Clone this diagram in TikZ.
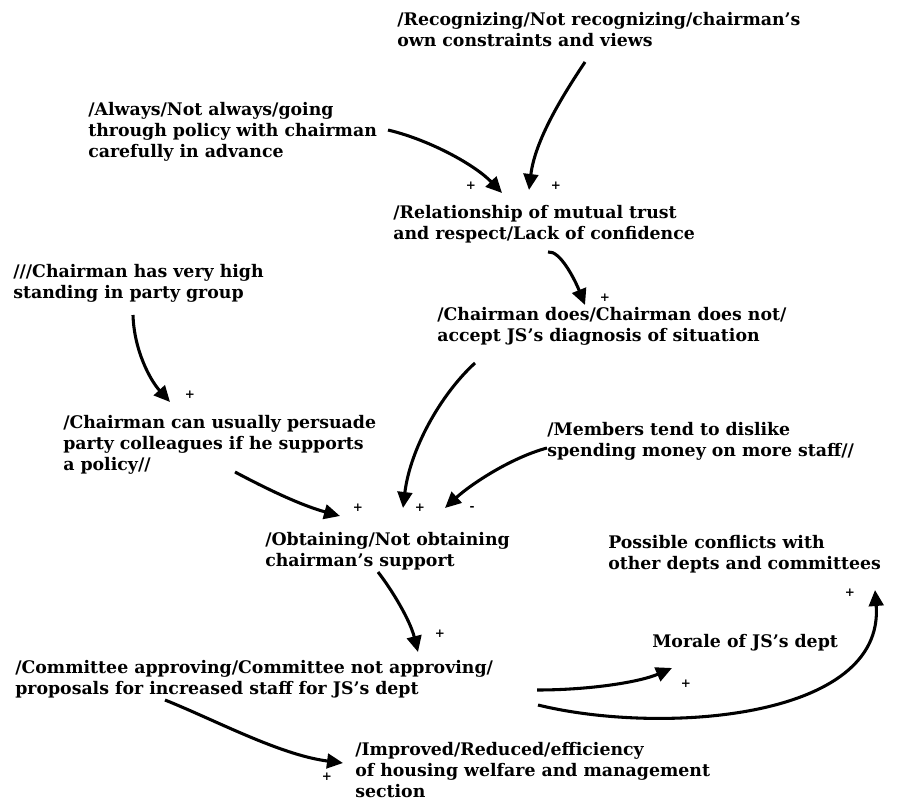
\documentclass[tikz,border=0pt]{standalone}
\usepackage{fontspec}
\setmainfont{DejaVu Serif}
\usepackage{tikz}
\usetikzlibrary{arrows.meta}
\tikzset{
    factor/.style={
        align=left,
        anchor=north west,
        inner sep=0pt,
        font=\bfseries\fontsize{13}{15.75}\selectfont
    },
    sign/.style={
        inner sep=0pt,
        font=\bfseries\small
    },
    link/.style={
        draw,
        line width=2.3pt,
        -{Triangle[length=12pt, width=11pt]}
    }
}

\begin{document}
\begin{tikzpicture}[x=0.75pt,y=-0.75pt]
  \useasboundingbox (0,0) rectangle (898,802);

  % Factors
  \node[factor] (recog) at (397,12) {/Recognizing/Not recognizing/chairman's\\own constraints and views};
  \node[factor] (always) at (88,102) {/Always/Not always/going\\through policy with chairman\\carefully in advance};
  \node[factor] (trust) at (393,205) {/Relationship of mutual trust\\and respect/Lack of confidence};
  \node[factor] (standing) at (13,264) {///Chairman has very high\\standing in party group};
  \node[factor] (accept) at (437,307) {/Chairman does/Chairman does not/\\accept JS's diagnosis of situation};
  \node[factor] (persuade) at (63,415) {/Chairman can usually persuade\\party colleagues if he supports\\a policy//};
  \node[factor] (members) at (547,422) {/Members tend to dislike\\spending money on more staff//};
  \node[factor] (support) at (265,532) {/Obtaining/Not obtaining\\chairman's support};
  \node[factor] (conflicts) at (608,535) {Possible conflicts with\\other depts and committees};
  \node[factor] (approve) at (15,660) {/Committee approving/Committee not approving/\\proposals for increased staff for JS's dept};
  \node[factor] (morale) at (652,634) {Morale of JS's dept};
  \node[factor] (efficiency) at (355,742) {/Improved/Reduced/efficiency\\of housing welfare and management\\section};

  % Influences
  \draw[link] ([shift={(188,50)}]recog.north west) .. controls +(-22,33) and +(6,-50) .. ([shift={(136,-15)}]trust.north west);
  \draw[link] ([shift={(300,28)}]always.north west) .. controls +(42,10) and +(-27,-28) .. ([shift={(109,-12)}]trust.north west);
  \draw[link] ([shift={(155,47)}]trust.north west) .. controls +(12,-2) and +(-10,-25) .. ([shift={(148,-2)}]accept.north west);
  \draw[link] ([shift={(120,51)}]standing.north west) .. controls +(1,35) and +(-20,-22) .. ([shift={(107,-13)}]persuade.north west);
  \draw[link] ([shift={(38,56)}]accept.north west) .. controls +(-35,32) and +(7,-58) .. ([shift={(138,-24)}]support.north west);
  \draw[link] ([shift={(172,57)}]persuade.north west) .. controls +(30,16) and +(-40,-11) .. ([shift={(75,-16)}]support.north west);
  \draw[link] ([shift={(0,26)}]members.north west) .. controls +(-37,10) and +(25,-23) .. ([shift={(180,-24)}]support.north west);
  \draw[link] ([shift={(113,40)}]support.north west) .. controls +(14,18) and +(-8,-32) .. ([shift={(403,-8)}]approve.north west);
  \draw[link] ([shift={(522,30)}]approve.north west) .. controls +(53,0) and +(-32,14) .. ([shift={(20,34)}]morale.north west);
  \draw[link] ([shift={(523,45)}]approve.north west) .. controls +(122,30) and +(10,130) .. ([shift={(267,55)}]conflicts.north west);
  \draw[link] ([shift={(150,40)}]approve.north west) .. controls +(50,20) and +(-63,-8) .. ([shift={(-12,21)}]efficiency.north west);

  % Signs
  \node[sign] (s1) at (471,186) {+};
  \node[sign] (s2) at (556,186) {+};
  \node[sign] (s3) at (605,298) {+};
  \node[sign] (s4) at (190,395) {+};
  \node[sign] (s5) at (358,508) {+};
  \node[sign] (s6) at (420,508) {+};
  \node[sign] (s7) at (472,508) {-};
  \node[sign] (s8) at (440,634) {+};
  \node[sign] (s9) at (686,684) {+};
  \node[sign] (s10) at (850,593) {+};
  \node[sign] (s11) at (327,777) {+};
\end{tikzpicture}
\end{document}
